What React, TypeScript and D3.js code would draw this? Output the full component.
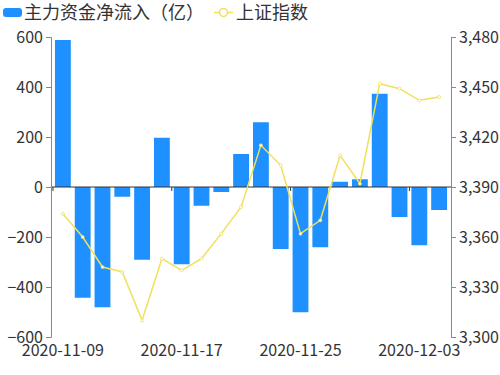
import { useEffect, useRef } from 'react'
import * as d3 from 'd3'

const dates = [
  '2020-11-09', '2020-11-10', '2020-11-11', '2020-11-12', '2020-11-13',
  '2020-11-16', '2020-11-17', '2020-11-18', '2020-11-19', '2020-11-20',
  '2020-11-23', '2020-11-24', '2020-11-25', '2020-11-26', '2020-11-27',
  '2020-11-30', '2020-12-01', '2020-12-02', '2020-12-03', '2020-12-04',
]
const netInflow = [588, -443, -481, -39, -291, 197, -309, -75, -20, 132, 259, -248, -501, -241, 21, 31, 373, -120, -233, -92]
const shIndex = [3374, 3360, 3342, 3339, 3310, 3347, 3340, 3347, 3362, 3378, 3415, 3403, 3362, 3370, 3409, 3392, 3452, 3449, 3442, 3444]
const leftTicks = [-600, -400, -200, 0, 200, 400, 600]
const rightTicks = [3300, 3330, 3360, 3390, 3420, 3450, 3480]
const labelDates = ['2020-11-09', '2020-11-17', '2020-11-25', '2020-12-03']

const barColor = '#1e90ff'
const lineColor = '#f0e05a'
const axisColor = '#888'
const textColor = '#333'
const font = '"Noto Sans CJK SC", "Noto Sans", sans-serif'

export default function App() {
  const svgRef = useRef<SVGSVGElement>(null)

  useEffect(() => {
    const width = 500
    const height = 375
    const margin = { top: 37, right: 49, bottom: 38, left: 51 }

    const svg = d3.select(svgRef.current)
    svg.selectAll('*').remove()
    svg.attr('viewBox', `0 0 ${width} ${height}`).attr('width', width).attr('height', height)

    const x = d3.scaleBand().domain(dates).range([margin.left, width - margin.right]).padding(0.2)
    const yL = d3.scaleLinear().domain([-600, 600]).range([height - margin.bottom, margin.top])
    const yR = d3.scaleLinear().domain([3300, 3480]).range([height - margin.bottom, margin.top])

    // bars
    svg.append('g')
      .selectAll('rect')
      .data(netInflow)
      .join('rect')
      .attr('x', (_, i) => x(dates[i])!)
      .attr('width', x.bandwidth())
      .attr('y', (d) => yL(Math.max(0, d)))
      .attr('height', (d) => Math.abs(yL(d) - yL(0)))
      .attr('fill', barColor)

    // zero line with ticks
    const zero = svg.append('g')
    zero.append('line')
      .attr('x1', margin.left).attr('x2', width - margin.right)
      .attr('y1', yL(0)).attr('y2', yL(0))
      .attr('stroke', textColor).attr('stroke-width', 1)
    zero.selectAll('line.tk')
      .data(labelDates)
      .join('line')
      .attr('class', 'tk')
      .attr('x1', (d) => x(d)! - (x.step() - x.bandwidth()) / 2)
      .attr('x2', (d) => x(d)! - (x.step() - x.bandwidth()) / 2)
      .attr('y1', yL(0)).attr('y2', yL(0) + 4)
      .attr('stroke', textColor)

    // line
    const line = d3.line<number>()
      .x((_, i) => x(dates[i])! + x.bandwidth() / 2)
      .y((d) => yR(d))
    svg.append('path')
      .datum(shIndex)
      .attr('fill', 'none')
      .attr('stroke', lineColor)
      .attr('stroke-width', 1.5)
      .attr('d', line)
    svg.append('g')
      .selectAll('circle')
      .data(shIndex)
      .join('circle')
      .attr('cx', (_, i) => x(dates[i])! + x.bandwidth() / 2)
      .attr('cy', (d) => yR(d))
      .attr('r', 1.5)
      .attr('fill', '#fff')
      .attr('stroke', lineColor)
      .attr('stroke-width', 0.8)

    // left axis
    const gl = svg.append('g').attr('transform', `translate(${margin.left},0)`)
      .call(d3.axisLeft(yL).tickValues(leftTicks).tickSize(5).tickPadding(3))
    gl.select('.domain').attr('stroke', axisColor)
    gl.selectAll('.tick line').attr('stroke', axisColor)
    gl.selectAll('text').attr('fill', textColor).style('font-size', '16px').style('font-family', font)

    // right axis
    const gr = svg.append('g').attr('transform', `translate(${width - margin.right},0)`)
      .call(d3.axisRight(yR).tickValues(rightTicks).tickSize(5).tickPadding(3).tickFormat(d3.format(',')))
    gr.select('.domain').attr('stroke', axisColor)
    gr.selectAll('.tick line').attr('stroke', axisColor)
    gr.selectAll('text').attr('fill', textColor).style('font-size', '16px').style('font-family', font)

    // bottom labels
    svg.append('g')
      .selectAll('text')
      .data(labelDates)
      .join('text')
      .attr('x', (d) => x(d)! + x.bandwidth() / 2)
      .attr('y', height - margin.bottom + 19)
      .attr('text-anchor', 'middle')
      .attr('fill', textColor)
      .style('font-size', '16px')
      .style('font-family', font)
      .text((d) => d)

    // legend
    const lg = svg.append('g').style('font-family', font).style('font-size', '18px')
    lg.append('rect').attr('x', 3).attr('y', 8).attr('width', 19).attr('height', 9).attr('rx', 3).attr('fill', barColor)
    lg.append('text').attr('x', 24).attr('y', 19).attr('fill', textColor).text('主力资金净流入（亿）')
    lg.append('line').attr('x1', 214).attr('x2', 233).attr('y1', 12.5).attr('y2', 12.5).attr('stroke', lineColor).attr('stroke-width', 1.5)
    lg.append('circle').attr('cx', 223.5).attr('cy', 12.5).attr('r', 4).attr('fill', '#fff').attr('stroke', lineColor).attr('stroke-width', 1.5)
    lg.append('text').attr('x', 236).attr('y', 19).attr('fill', textColor).text('上证指数')
  }, [])

  return <svg ref={svgRef} style={{ position: 'absolute', left: 0, top: 0, background: '#fff' }} />
}
